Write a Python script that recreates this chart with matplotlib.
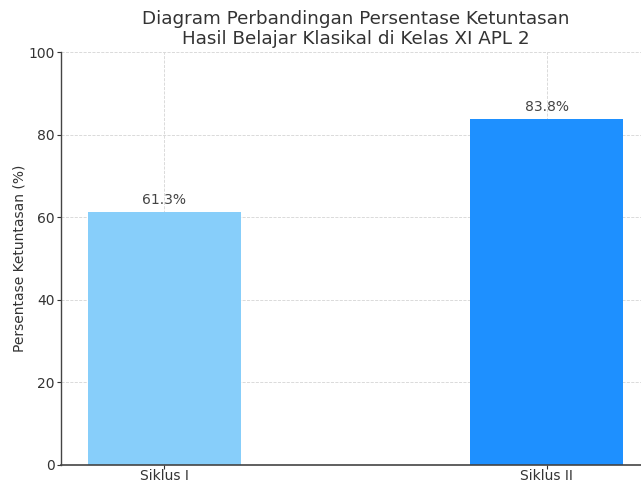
import matplotlib
matplotlib.use("Agg")
import matplotlib.pyplot as plt

categories = ["Siklus I", "Siklus II"]
values = [61.3, 83.8]
colors = ["#87CEFA", "#1E90FF"]

fig = plt.figure(figsize=(6.41, 4.84), dpi=100)
ax = fig.add_axes([61/641, 19/484, 589/641, 413/484])
bars = ax.bar(categories, values, color=colors, width=0.4, zorder=2)
ax.set_ylim(0, 100)
ax.set_xlim(-0.27, 1.27)
ax.grid(True, linestyle="--", color="#d5d5d5", linewidth=0.6, zorder=0)
for s in ["top", "right"]:
    ax.spines[s].set_visible(False)
ax.spines["left"].set_color("#444444")
ax.spines["bottom"].set_color("#444444")
ax.spines["left"].set_linewidth(1.0)
ax.spines["bottom"].set_linewidth(1.2)
ax.tick_params(axis="y", colors="#333333", labelsize=10, length=3, pad=1.5)
ax.tick_params(axis="x", colors="#333333", labelsize=10, length=3, pad=0)
for b, v in zip(bars, values):
    ax.text(b.get_x() + b.get_width()/2, v + 1.1, f"{v}%", ha="center", va="bottom",
            fontsize=10, color="#444444")
ax.set_ylabel("Persentase Ketuntasan (%)", fontsize=10, color="#333333", labelpad=1.5)
ax.set_title("Diagram Perbandingan Persentase Ketuntasan\nHasil Belajar Klasikal di Kelas XI APL 2",
             fontsize=13.2, color="#333333", pad=6, linespacing=1.1)
fig.savefig("out.png", dpi=100)
